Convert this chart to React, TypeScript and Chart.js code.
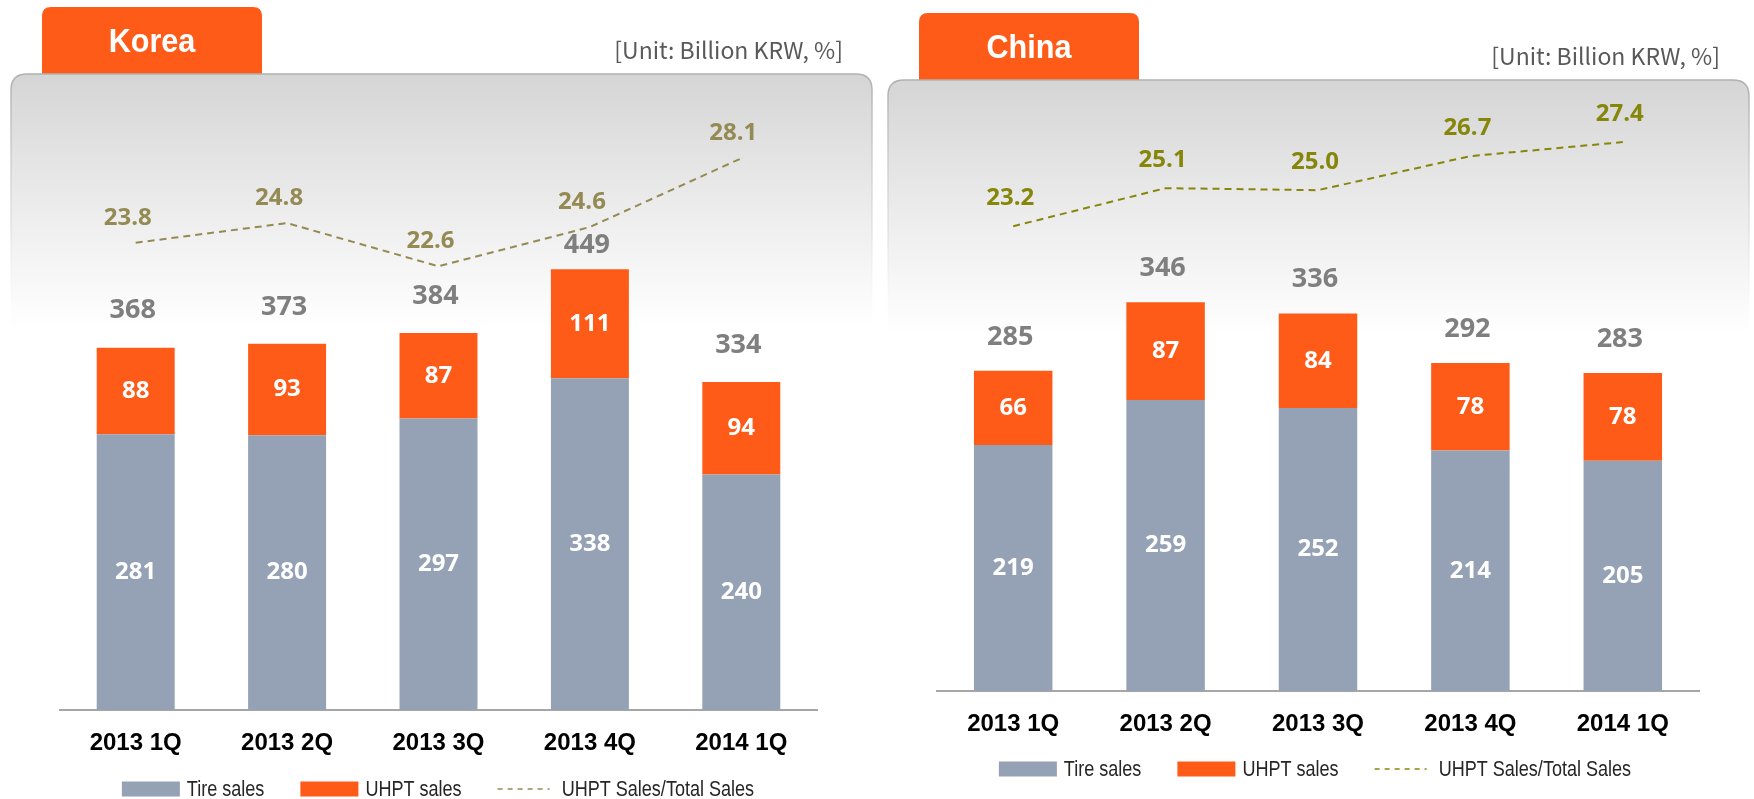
import React, { useEffect, useRef } from "react";
import { Chart, registerables } from "chart.js";

Chart.register(...registerables);

// ---------- data ----------
const categories = ["2013 1Q", "2013 2Q", "2013 3Q", "2013 4Q", "2014 1Q"];
const legendLabels = ["Tire sales", "UHPT sales", "UHPT Sales/Total Sales"];
const unitLabel = "[Unit: Billion KRW, %]";

const koreaTitle = "Korea";
const koreaTire = [281, 280, 297, 338, 240];
const koreaUhpt = [88, 93, 87, 111, 94];
const koreaTotal = [368, 373, 384, 449, 334];
const koreaRatio = [23.8, 24.8, 22.6, 24.6, 28.1];

const chinaTitle = "China";
const chinaTire = [219, 259, 252, 214, 205];
const chinaUhpt = [66, 87, 84, 78, 78];
const chinaTotal = [285, 346, 336, 292, 283];
const chinaRatio = [23.2, 25.1, 25.0, 26.7, 27.4];

// ---------- styles ----------
const ORANGE = "#fe5b19";
const GRAY = "#95a1b4";
const TOTAL_GRAY = "#7f7f7f";
const SANS = '"Liberation Sans", Arial, sans-serif';
const LABEL_FONT = '"Open Sans", "Noto Sans", sans-serif';
const UNIT_FONT = '"Noto Sans CJK KR", "Noto Sans", sans-serif';

type PanelCfg = {
  title: string;
  tabTop: number;
  panelTop: number;
  lineColor: string;
  tire: number[];
  uhpt: number[];
  total: number[];
  ratio: number[];
  yMax: number;
  padding: { top: number; left: number; right: number; bottom: number };
  legendDy: number;
  legendCx: number;
  totalOffset: number;
  ratioDx: number;
  ratioDy: number;
};

const koreaCfg: PanelCfg = {
  title: koreaTitle,
  tabTop: 7,
  panelTop: 74,
  lineColor: "#948a54",
  tire: koreaTire,
  uhpt: koreaUhpt,
  total: koreaTotal,
  ratio: koreaRatio,
  yMax: 600,
  padding: { top: 121, left: 60, right: 60, bottom: 23 },
  legendDy: 79,
  legendCx: 438,
  totalOffset: 37,
  ratioDx: -8,
  ratioDy: -25,
};

const chinaCfg: PanelCfg = {
  title: chinaTitle,
  tabTop: 13,
  panelTop: 80,
  lineColor: "#86860a",
  tire: chinaTire,
  uhpt: chinaUhpt,
  total: chinaTotal,
  ratio: chinaRatio,
  yMax: 535,
  padding: { top: 90, left: 60, right: 55, bottom: 42 },
  legendDy: 78,
  legendCx: 438,
  totalOffset: 34,
  ratioDx: -3,
  ratioDy: -28,
};

function topRoundedPath(ctx: CanvasRenderingContext2D, x: number, y: number, w: number, h: number, r: number) {
  ctx.beginPath();
  ctx.moveTo(x, y + h);
  ctx.lineTo(x, y + r);
  ctx.quadraticCurveTo(x, y, x + r, y);
  ctx.lineTo(x + w - r, y);
  ctx.quadraticCurveTo(x + w, y, x + w, y + r);
  ctx.lineTo(x + w, y + h);
}

function narrowText(ctx: CanvasRenderingContext2D, text: string, x: number, y: number, sx: number) {
  ctx.save();
  ctx.translate(x, y);
  ctx.scale(sx, 1);
  ctx.fillText(text, 0, 0);
  ctx.restore();
}

const panelPlugin = {
  id: "panelBg",
  beforeDraw(chart: any) {
    const cfg: PanelCfg = chart.options.plugins.panelBg.cfg;
    const ctx: CanvasRenderingContext2D = chart.ctx;
    ctx.save();
    // tab
    topRoundedPath(ctx, 42, cfg.tabTop, 220, cfg.panelTop - cfg.tabTop + 6, 9);
    ctx.closePath();
    ctx.fillStyle = ORANGE;
    ctx.fill();
    // panel
    const fadeEnd = cfg.panelTop + 255;
    const g = ctx.createLinearGradient(0, cfg.panelTop, 0, fadeEnd);
    g.addColorStop(0, "#d5d5d5");
    g.addColorStop(0.5, "#ebebeb");
    g.addColorStop(1, "#ffffff");
    topRoundedPath(ctx, 11, cfg.panelTop, 861, 799 - cfg.panelTop + 5, 16);
    ctx.fillStyle = g;
    ctx.fill();
    const sg = ctx.createLinearGradient(0, cfg.panelTop, 0, fadeEnd);
    sg.addColorStop(0, "#b0b0b0");
    sg.addColorStop(0.6, "rgba(215,215,215,0.6)");
    sg.addColorStop(1, "rgba(255,255,255,0)");
    ctx.strokeStyle = sg;
    ctx.lineWidth = 1.5;
    ctx.stroke();
    // tab text
    ctx.fillStyle = "#ffffff";
    ctx.font = `bold 34px ${SANS}`;
    ctx.textAlign = "center";
    ctx.textBaseline = "middle";
    narrowText(ctx, cfg.title, 152, cfg.tabTop + 36, 0.9);
    // unit text
    ctx.fillStyle = "#595959";
    ctx.font = `23px ${UNIT_FONT}`;
    ctx.textAlign = "right";
    ctx.fillText(unitLabel, 843, cfg.tabTop + 43);
    ctx.restore();
  },
};

const valueLabelPlugin = {
  id: "valueLabels",
  afterDatasetsDraw(chart: any) {
    const cfg: PanelCfg = chart.options.plugins.panelBg.cfg;
    const ctx: CanvasRenderingContext2D = chart.ctx;
    const tireMeta = chart.getDatasetMeta(0);
    const uhptMeta = chart.getDatasetMeta(1);
    const lineMeta = chart.getDatasetMeta(2);
    ctx.save();
    ctx.textAlign = "center";
    ctx.textBaseline = "middle";
    ctx.fillStyle = "#ffffff";
    ctx.font = `bold 24px ${LABEL_FONT}`;
    tireMeta.data.forEach((el: any, i: number) => {
      const p = el.getProps(["x", "y", "base"], true);
      ctx.fillText(String(cfg.tire[i]), p.x, (p.y + p.base) / 2);
    });
    uhptMeta.data.forEach((el: any, i: number) => {
      const p = el.getProps(["x", "y", "base"], true);
      ctx.fillText(String(cfg.uhpt[i]), p.x, (p.y + p.base) / 2);
    });
    ctx.fillStyle = TOTAL_GRAY;
    ctx.font = `bold 27px ${LABEL_FONT}`;
    uhptMeta.data.forEach((el: any, i: number) => {
      const p = el.getProps(["x", "y"], true);
      const lineY = lineMeta.data[i].getProps(["y"], true).y;
      let y = p.y - cfg.totalOffset;
      // keep the total clear of the ratio line
      if (Math.abs(y - lineY) < 18) y = Math.min(lineY + 18, p.y - 22);
      ctx.fillText(String(cfg.total[i]), p.x - 3, y);
    });
    ctx.fillStyle = cfg.lineColor;
    ctx.font = `bold 24px ${LABEL_FONT}`;
    lineMeta.data.forEach((el: any, i: number) => {
      const p = el.getProps(["x", "y"], true);
      ctx.fillText(cfg.ratio[i].toFixed(1), p.x + cfg.ratioDx, p.y + cfg.ratioDy);
    });
    ctx.restore();
  },
};

const legendPlugin = {
  id: "sketchLegend",
  afterDraw(chart: any) {
    const cfg: PanelCfg = chart.options.plugins.panelBg.cfg;
    const ctx: CanvasRenderingContext2D = chart.ctx;
    const datasets = chart.data.datasets;
    const sx = 0.82;
    const swW = 58, swH = 15, lineW = 52, gapBox = 7, gapLine = 12, gapItem = 36;
    ctx.save();
    ctx.font = `22px ${SANS}`;
    ctx.textBaseline = "middle";
    ctx.textAlign = "left";
    const items = datasets.map((ds: any) => {
      const isLine = ds.type === "line";
      const tw = ctx.measureText(ds.label).width * sx;
      const lead = isLine ? lineW + gapLine : swW + gapBox;
      return { ds, isLine, tw, lead, w: lead + tw };
    });
    const total = items.reduce((s: number, it: any) => s + it.w, 0) + gapItem * (items.length - 1);
    let x = cfg.legendCx - total / 2;
    const cy = chart.chartArea.bottom + cfg.legendDy;
    items.forEach((it: any) => {
      if (it.isLine) {
        ctx.strokeStyle = it.ds.borderColor;
        ctx.lineWidth = 1.5;
        ctx.setLineDash([5, 5]);
        ctx.beginPath();
        ctx.moveTo(x, cy);
        ctx.lineTo(x + lineW, cy);
        ctx.stroke();
        ctx.setLineDash([]);
      } else {
        ctx.fillStyle = it.ds.backgroundColor;
        ctx.fillRect(x, cy - swH / 2, swW, swH);
      }
      ctx.fillStyle = "#262626";
      narrowText(ctx, it.ds.label, x + it.lead, cy + 1, sx);
      x += it.w + gapItem;
    });
    ctx.restore();
  },
};

function PanelChart({ cfg }: { cfg: PanelCfg }) {
  const ref = useRef<HTMLCanvasElement | null>(null);
  useEffect(() => {
    if (!ref.current) return;
    const chart = new Chart(ref.current, {
      type: "bar",
      data: {
        labels: categories,
        datasets: [
          {
            label: legendLabels[0],
            data: cfg.tire,
            backgroundColor: GRAY,
            borderWidth: 0,
            stack: "s",
            yAxisID: "y",
            barPercentage: 0.515,
            categoryPercentage: 1,
          },
          {
            label: legendLabels[1],
            data: cfg.uhpt,
            backgroundColor: ORANGE,
            borderWidth: 0,
            stack: "s",
            yAxisID: "y",
            barPercentage: 0.515,
            categoryPercentage: 1,
          },
          {
            type: "line",
            label: legendLabels[2],
            data: cfg.ratio,
            borderColor: cfg.lineColor,
            backgroundColor: cfg.lineColor,
            borderWidth: 2,
            borderDash: [7, 5],
            pointRadius: 0,
            fill: false,
            tension: 0,
            yAxisID: "y2",
          } as any,
        ],
      },
      options: {
        responsive: false,
        animation: false,
        devicePixelRatio: 1,
        layout: { padding: cfg.padding },
        scales: {
          x: {
            stacked: true,
            grid: { display: false, drawTicks: false },
            border: { display: true, color: "#a6a6a6", width: 2 },
            ticks: {
              color: "#000000",
              font: { family: SANS, size: 24, weight: "bold", lineHeight: 1 },
              padding: 21,
              maxRotation: 0,
              autoSkip: false,
            },
          },
          y: { stacked: true, display: false, min: 0, max: cfg.yMax },
          y2: { display: false, min: 0, max: 30 },
        },
        plugins: {
          tooltip: { enabled: false },
          legend: { display: false },
          panelBg: { cfg },
        } as any,
      },
      plugins: [panelPlugin, valueLabelPlugin, legendPlugin],
    } as any);
    return () => chart.destroy();
  }, [cfg]);
  return <canvas ref={ref} width={877} height={799} style={{ display: "block", width: 877, height: 799 }} />;
}

export default function App() {
  return (
    <div style={{ position: "absolute", left: 0, top: 0, width: 1754, height: 799, display: "flex", background: "#ffffff", overflow: "hidden" }}>
      <PanelChart cfg={koreaCfg} />
      <PanelChart cfg={chinaCfg} />
    </div>
  );
}
